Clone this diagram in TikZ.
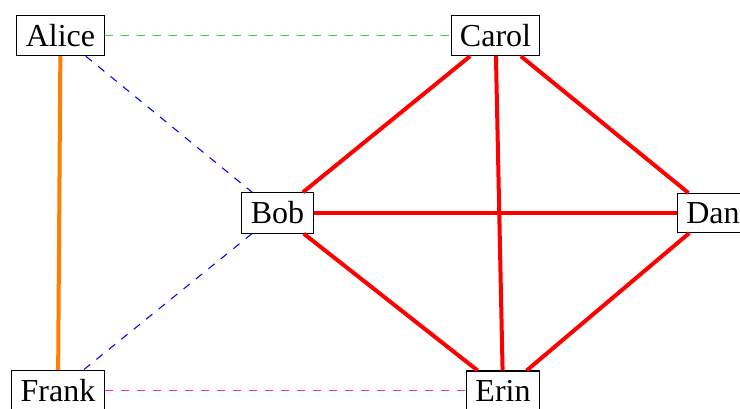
\documentclass[tikz,border=0pt]{standalone}
\usepackage{fontspec}
\setmainfont{Liberation Serif}
\definecolor{weakpink}{RGB}{255,40,170}

\begin{document}
\begin{tikzpicture}[x=0.375pt, y=-0.375pt,
  person/.style={draw, fill=white, font=\fontsize{12}{14}\selectfont},
  strong/.style={red, line width=1.5pt},
  weak/.style={dashed, thin},
]
  \useasboundingbox (0,0) rectangle (740,409);
  \node[person] (alice) at (60.5,35.5)  {Alice};
  \node[person] (carol) at (495.5,35.5) {Carol};
  \node[person] (bob)   at (277.5,213)  {Bob};
  \node[person] (dan)   at (713,213)    {Dan};
  \node[person] (frank) at (58,390.5)   {Frank};
  \node[person] (erin)  at (503,390.5)  {Erin};
  % schwache Bindungen
  \draw[weak, draw={rgb,255:red,40;green,220;blue,40}, line width=0.5pt] (alice) -- (carol);
  \draw[weak, blue]      (alice) -- (bob);
  \draw[weak, blue]      (bob) -- (frank);
  \draw[weak, weakpink]  (frank) -- (erin);
  \draw[orange, line width=1.5pt] (alice) -- (frank);
  % starke Bindungen
  \foreach \a/\b in {carol/bob, carol/dan, carol/erin, bob/dan, bob/erin, dan/erin}
    \draw[strong] (\a) -- (\b);
\end{tikzpicture}
\end{document}
